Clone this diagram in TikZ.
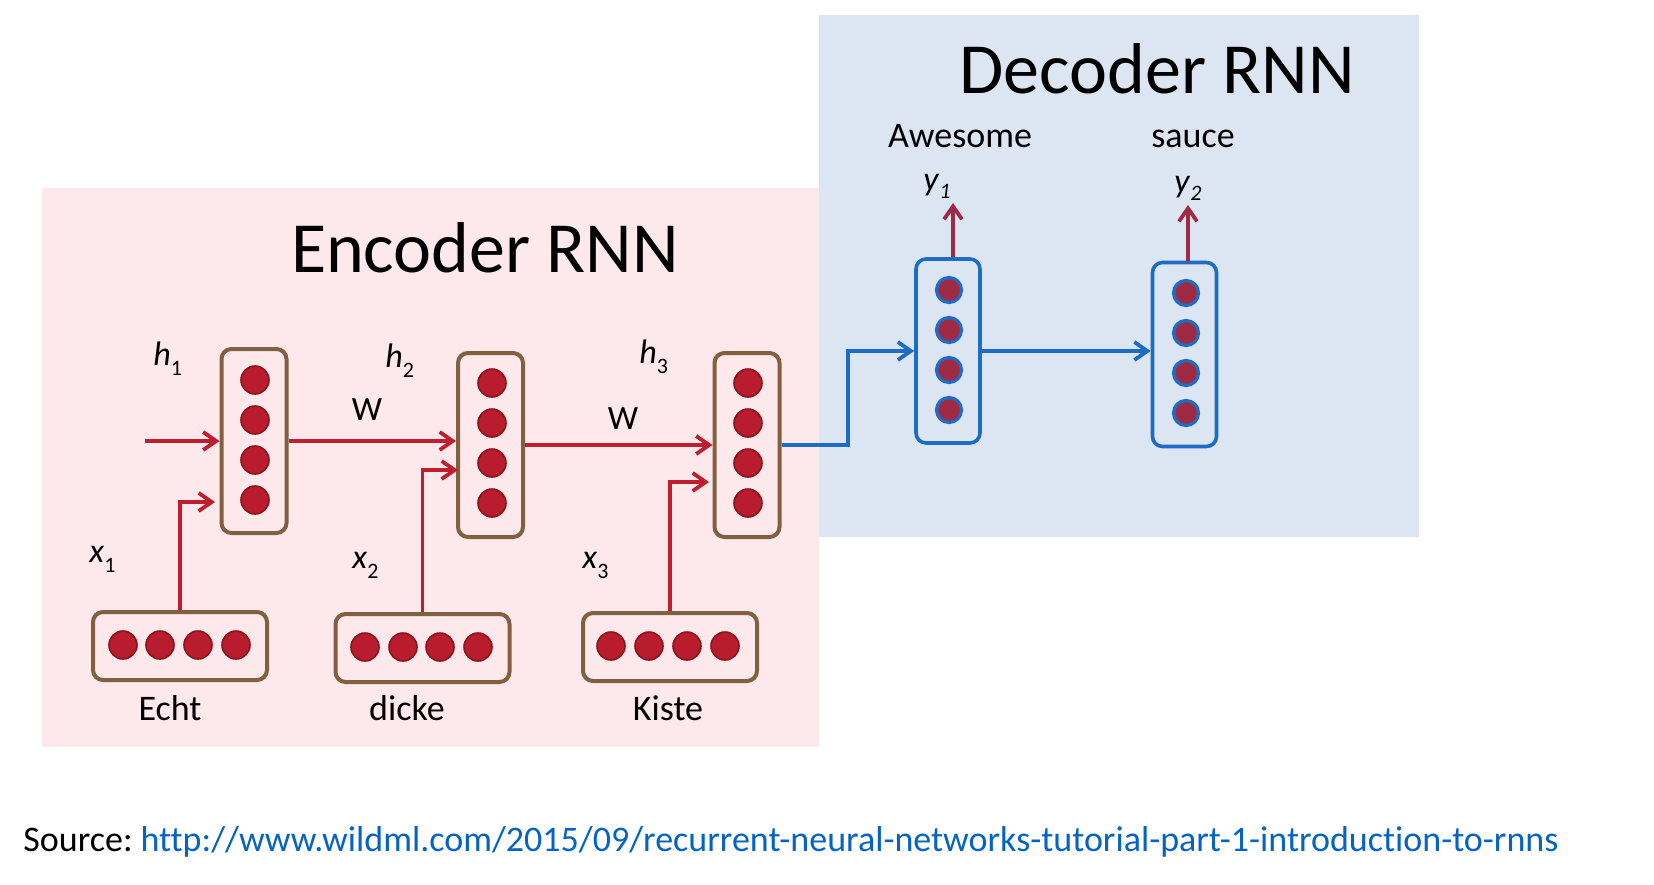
\documentclass[tikz,border=0pt]{standalone}
\usepackage{fontspec}
\setmainfont{Carlito}
\usetikzlibrary{arrows.meta,calc}
\definecolor{pinkbg}{RGB}{253,233,235}
\definecolor{bluebg}{RGB}{220,230,242}
\definecolor{brownc}{RGB}{128,96,64}
\definecolor{redc}{RGB}{185,28,44}
\definecolor{redd}{RGB}{140,20,32}
\definecolor{reda}{RGB}{190,30,45}
\definecolor{bluel}{RGB}{30,108,196}
\definecolor{maroonc}{RGB}{158,42,68}
\definecolor{urlc}{RGB}{5,99,193}
\newcommand\lsub[2][-5pt]{\raisebox{#1}{\fontsize{11}{11}\selectfont #2}}
\begin{document}
\begin{tikzpicture}[x=0.5pt,y=-0.5pt,
  vbox/.style={draw=brownc,line width=2pt,rounded corners=5pt,minimum width=32.5pt,minimum height=92pt,inner sep=0pt},
  hbox/.style={draw=brownc,line width=2pt,rounded corners=5pt,minimum width=87pt,minimum height=34pt,inner sep=0pt},
  dbox/.style={draw=bluel,line width=1.8pt,rounded corners=5pt,minimum width=32pt,minimum height=92pt,inner sep=0pt},
  rdot/.style={circle,fill=redc,draw=redd,line width=0.8pt,minimum size=14pt,inner sep=0pt},
  ddot/.style={circle,fill=maroonc,draw=bluel,line width=1.6pt,minimum size=12.5pt,inner sep=0pt},
  rarr/.style={draw=reda,line width=1.9pt,-{Straight Barb[length=6.5pt,width=9pt]}},
  barr/.style={draw=bluel,line width=1.9pt,-{Straight Barb[length=6.5pt,width=9pt]}},
  marr/.style={draw=maroonc,line width=1.9pt,-{Straight Barb[length=6.5pt,width=9pt]}},
  lbl/.style={inner sep=0pt,font=\fontsize{17}{17}\selectfont},
  word/.style={inner sep=0pt,anchor=base,font=\fontsize{18}{18}\selectfont},
  title/.style={inner sep=0pt,anchor=base,font=\fontsize{36}{36}\selectfont}
]
\useasboundingbox (0,0) rectangle (1654,884);
\fill[pinkbg] (42,188) rectangle (819,747);
\fill[bluebg] (819,15) rectangle (1419,537);

% titles
\node[title] (enct) at (485,272) {Encoder RNN};
\node[title] (dect) at (1157,93) {Decoder RNN};

% encoder vertical boxes
\node[vbox] (e1) at (254,441) {};
\node[vbox] (e2) at (490.5,445) {};
\node[vbox] (e3) at (747,445) {};
\foreach \i in {0,...,3} {
  \node[rdot] (e1c\i) at (255,380+40*\i) {};
  \node[rdot] (e2c\i) at (492,383+40*\i) {};
  \node[rdot] (e3c\i) at (748,383+40*\i) {};
}

% bottom boxes
\node[hbox] (b1) at (180,646) {};
\node[hbox] (b2) at (422.5,648) {};
\node[hbox] (b3) at (670,647) {};
\foreach \x [count=\k] in {123,160,198,236} \node[rdot] (b1c\k) at (\x,645) {};
\foreach \x [count=\k] in {365,403,440,478} \node[rdot] (b2c\k) at (\x,647) {};
\foreach \x [count=\k] in {611,649,687,725} \node[rdot] (b3c\k) at (\x,646) {};

% decoder boxes
\node[dbox] (d1) at (948,351) {};
\node[dbox] (d2) at (1184.5,354.5) {};
\foreach \i in {0,...,3} {
  \node[ddot] (d1c\i) at (949,290+40*\i) {};
  \node[ddot] (d2c\i) at (1186,293+40*\i) {};
}

% coordinates
\coordinate (in1) at (145,441);
\coordinate (c1) at (215,502);
\coordinate (c2) at (458,470);
\coordinate (c3) at (709,482);
\coordinate (bk) at (848,445);
\coordinate (o1) at (953,203);
\coordinate (o2) at (1188,205);

% encoder connectors
\draw[rarr] (in1) -- (in1 -| e1.west);
\draw[rarr] (e1.east |- in1) -- (in1 -| e2.west);
\draw[rarr] (b1.north) |- (c1);
\draw[rarr] (b2.north) |- (c2);
\draw[rarr] (e2.east) -- (e3.west);
\draw[rarr] (b3.north) |- (c3);

% decoder connectors
\draw[barr] (e3.east) -- (bk) |- (d1.west);
\draw[barr] (d1.east) -- (d1.east -| d2.west);
\draw[marr] (o1 |- d1.north) -- (o1);
\draw[marr] (o2 |- d2.north) -- (o2);

% labels
\node[lbl,anchor=base west] (h1) at (153,365) {\textit{h}\lsub{1}};
\node[lbl,anchor=base west] (h2) at (385,367) {\textit{h}\lsub{2}};
\node[lbl,anchor=base west] (h3) at (639,363) {\textit{h}\lsub{3}};
\node[lbl,anchor=base] (w1) at (367,420) {W};
\node[lbl,anchor=base] (w2) at (623,429) {W};
\node[lbl,anchor=base west] (x1) at (89,562) {\textit{x}\lsub{1}};
\node[lbl,anchor=base west] (x2) at (352,568) {\textit{x}\lsub{2}};
\node[lbl,anchor=base west] (x3) at (582,568) {\textit{x}\lsub{3}};
\node[lbl,anchor=base west] (y1) at (923,190) {\textit{y}\lsub[-4pt]{\textit{1}}};
\node[lbl,anchor=base west] (y2) at (1174,192) {\textit{y}\lsub[-4pt]{\textit{2}}};

\node[word] (awe) at (960,147) {Awesome};
\node[word] (sau) at (1193,147) {sauce};
\node[word] (echt) at (170,720) {Echt};
\node[word] (dick) at (407,720) {dicke};
\node[word] (kist) at (668,720) {Kiste};

\node[inner sep=0pt,anchor=base west,font=\fontsize{18}{18}\selectfont\addfontfeatures{Ligatures=NoCommon}] (src) at (23,851)
  {Source:\hspace{0.22em}\textcolor{urlc}{http://www.wildml.com/2015/09/recurrent-neural-networks-tutorial-part-1-introduction-to-rnns}};
\end{tikzpicture}
\end{document}
